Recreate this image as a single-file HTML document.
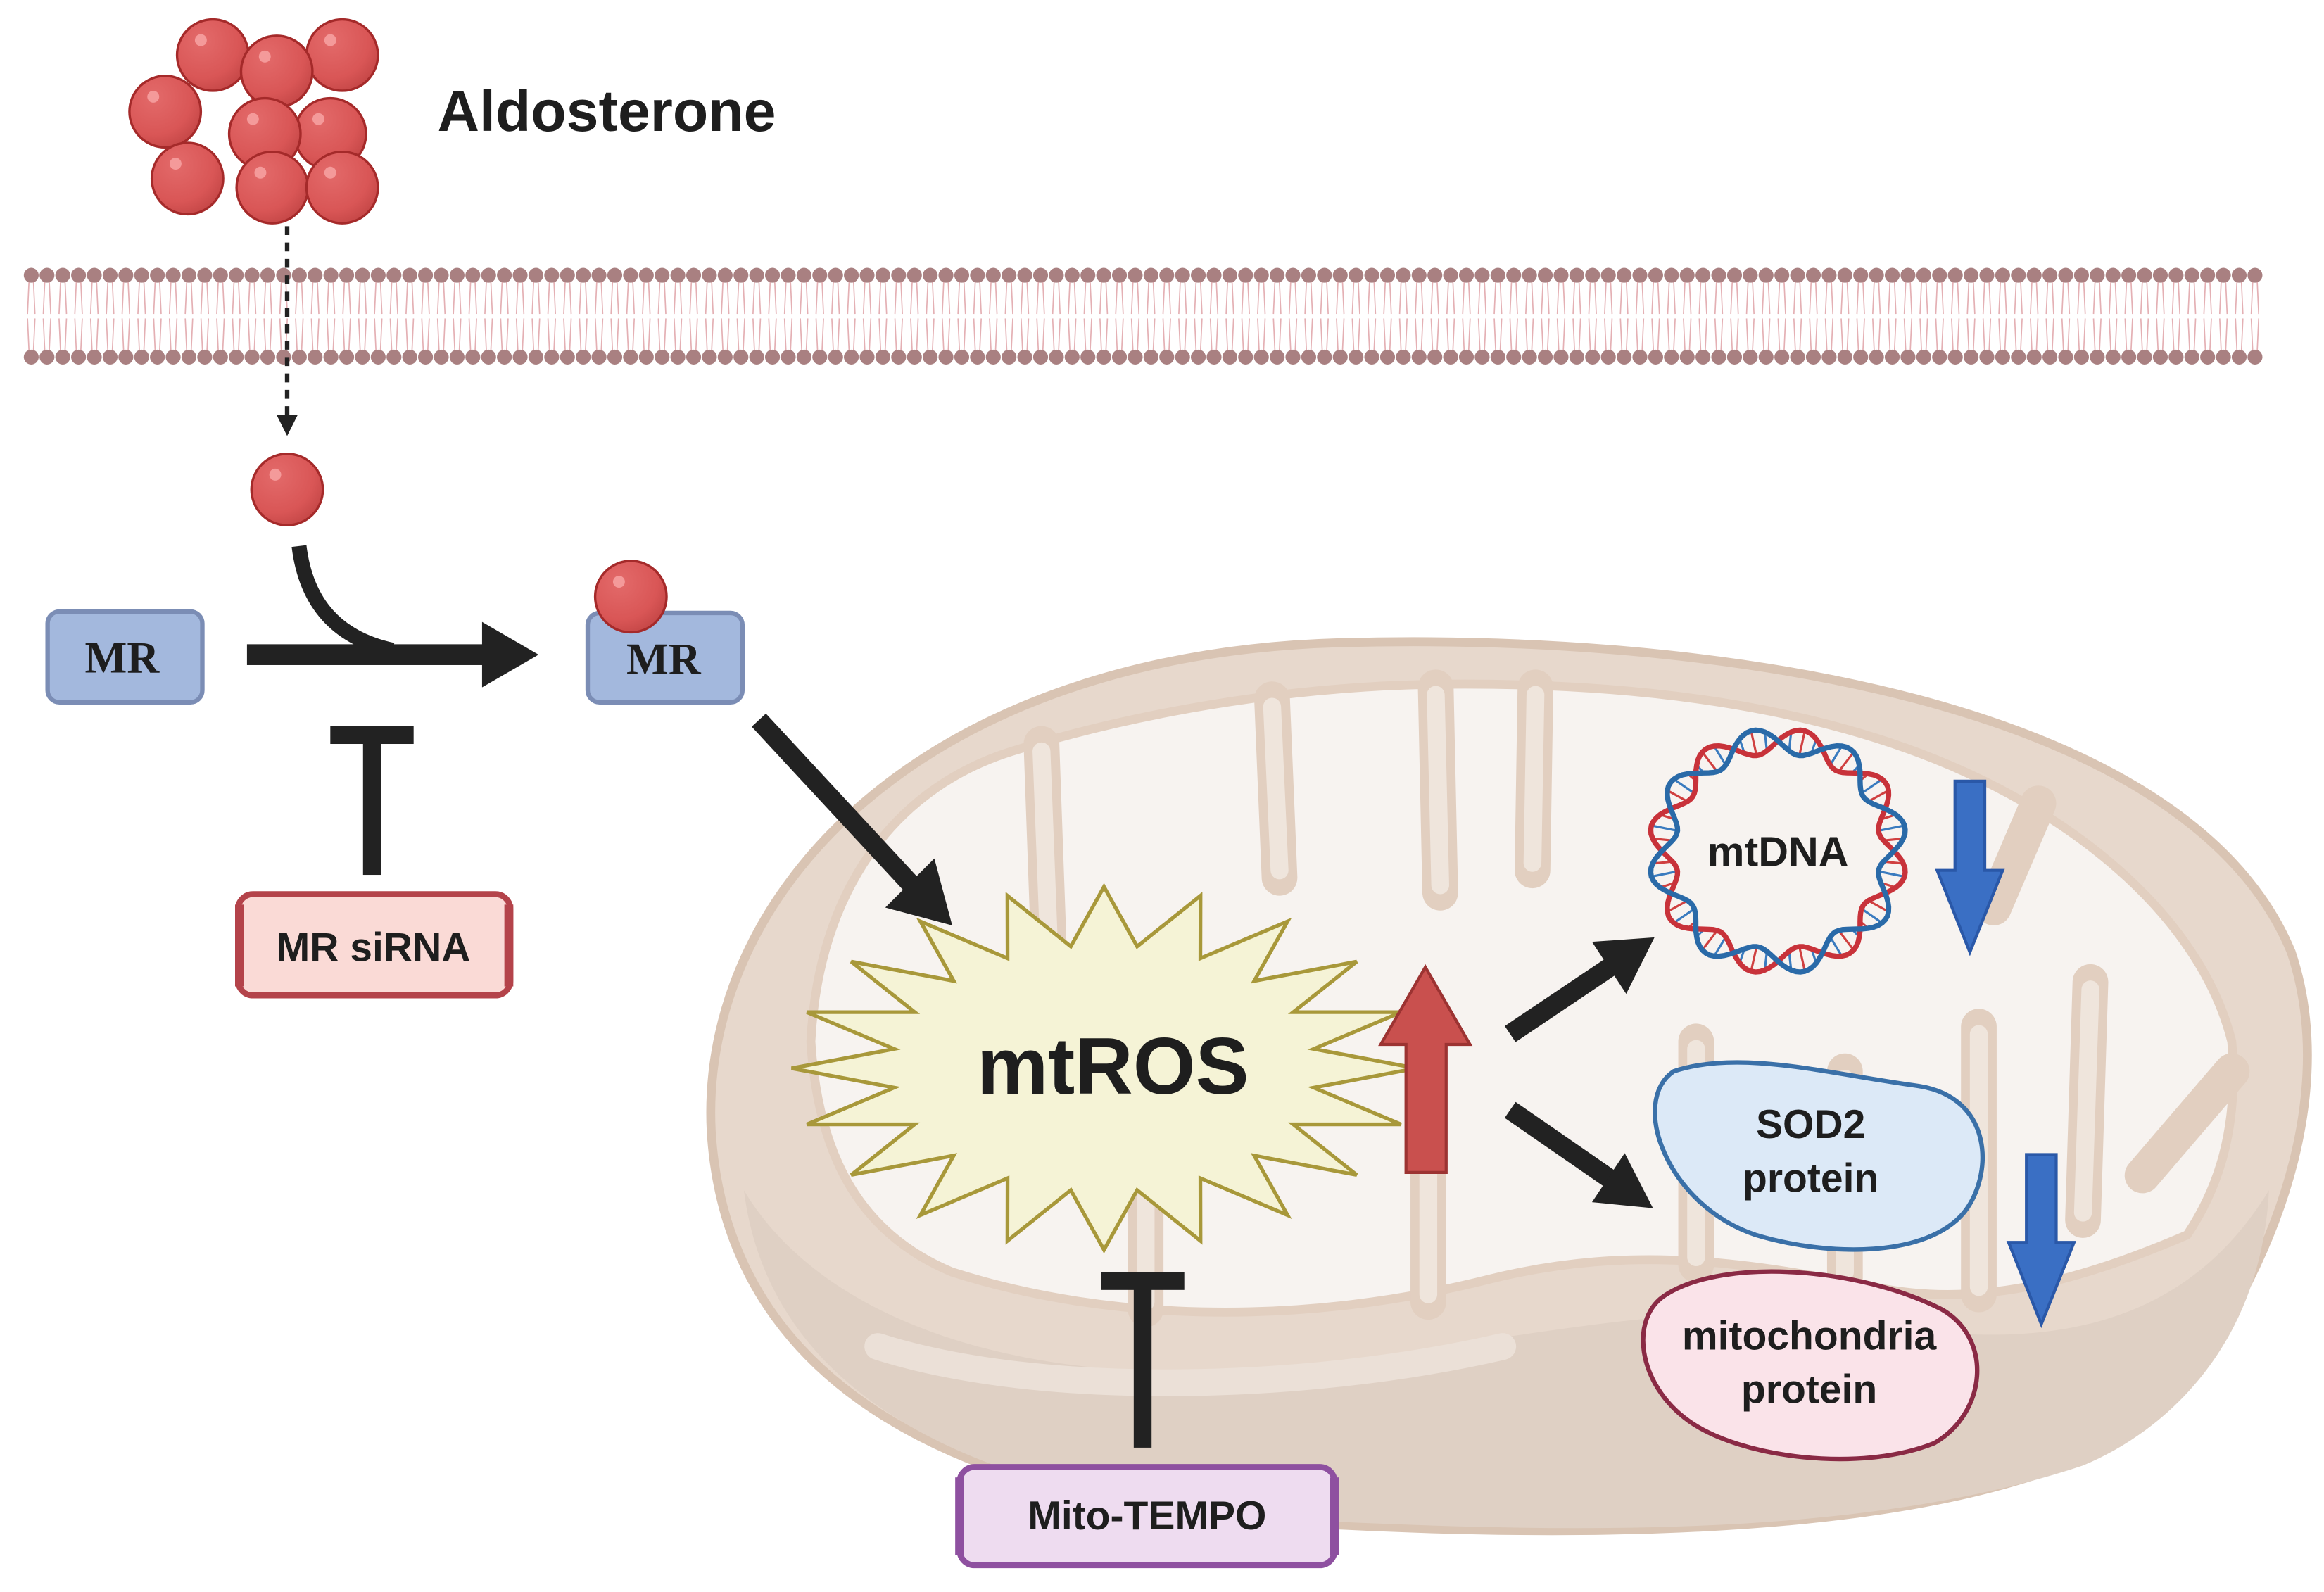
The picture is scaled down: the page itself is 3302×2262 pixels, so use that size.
<!DOCTYPE html>
<html><head><meta charset="utf-8"><style>
html,body{margin:0;padding:0;background:#fff;}
svg{display:block;}
text{font-family:"Liberation Sans",sans-serif;font-weight:bold;fill:#1e1e1e;}
</style></head><body>
<svg id="s" width="3302" height="2262" viewBox="0 0 1562 1070" xmlns="http://www.w3.org/2000/svg">
<defs>
<radialGradient id="ball" cx="0.35" cy="0.3" r="0.75"><stop offset="0" stop-color="#e36a6a"/><stop offset="0.7" stop-color="#d95656"/><stop offset="1" stop-color="#c54747"/></radialGradient>
<g id="b"><circle r="24" fill="url(#ball)" stroke="#a52a2a" stroke-width="1.6"/><circle cx="-8" cy="-10" r="4" fill="#f49a9a"/></g>
</defs>
<rect width="1562" height="1070" fill="#fff"/>
<use href="#b" x="143" y="37"/><use href="#b" x="230" y="37"/><use href="#b" x="186" y="48"/>
<use href="#b" x="111" y="75"/><use href="#b" x="222" y="90"/><use href="#b" x="178" y="90"/>
<use href="#b" x="126" y="120"/><use href="#b" x="183" y="126"/><use href="#b" x="230" y="126"/>
<text x="294" y="88" font-size="39">Aldosterone</text>
<g id="mem"></g>
<line x1="193" y1="152" x2="193" y2="280" stroke="#222" stroke-width="3" stroke-dasharray="6,5"/>
<polygon points="186,279 200,279 193,293" fill="#222"/>
<use href="#b" x="193" y="329"/>
<rect x="32" y="411" width="104" height="61" rx="8" fill="#a3b8dd" stroke="#7b8db5" stroke-width="3"/>
<text x="82" y="452" font-size="30" text-anchor="middle" style="font-family:'Liberation Serif',serif">MR</text>
<path d="M201,367 Q208,425 264,437" fill="none" stroke="#222" stroke-width="10"/>
<rect x="166" y="433" width="162" height="14" fill="#222"/>
<polygon points="324,418 362,440 324,462" fill="#222"/>
<rect x="395" y="412" width="104" height="60" rx="8" fill="#a3b8dd" stroke="#7b8db5" stroke-width="3"/>
<text x="446" y="453" font-size="30" text-anchor="middle" style="font-family:'Liberation Serif',serif">MR</text>
<use href="#b" x="424" y="401"/>
<rect x="222" y="488" width="56" height="12" fill="#222"/>
<rect x="244" y="488" width="12" height="100" fill="#222"/>
<rect x="160" y="601" width="183" height="68" rx="10" fill="#fadad6" stroke="#b4434a" stroke-width="4"/>
<rect x="158" y="608" width="6" height="55" fill="#b4434a"/><rect x="339" y="608" width="6" height="55" fill="#b4434a"/>
<text x="251" y="646" font-size="27" text-anchor="middle">MR siRNA</text>
<!-- Mitochondrion -->
<path d="M478,760 C470,600 620,440 900,432 C1150,425 1470,470 1540,640 C1580,760 1500,900 1450,950 C1350,1030 1100,1035 900,1025 C700,1020 490,960 478,760 Z" fill="#e7d8cc" stroke="#d9c4b3" stroke-width="6"/>
<path d="M500,800 C560,900 720,940 900,915 C1050,895 1150,870 1260,890 C1380,910 1470,890 1525,800 C1520,900 1460,960 1400,985 C1250,1035 1050,1030 880,1022 C700,1015 520,960 500,800 Z" fill="#dfd0c4"/>
<path d="M590,905 C700,940 880,935 1010,905" fill="none" stroke="#ebe0d7" stroke-width="18" stroke-linecap="round"/>
<path d="M545,700 C550,600 600,530 680,505 C760,480 860,462 960,460 C1080,458 1200,470 1300,510 C1400,550 1480,620 1500,700 C1505,760 1490,800 1470,830 C1400,860 1330,880 1260,865 C1180,850 1100,835 1000,860 C880,890 750,890 640,855 C580,830 550,780 545,700 Z" fill="#f7f3f0" stroke="#e2cfc0" stroke-width="6" stroke-linejoin="round"/>
<g fill="none" stroke="#e2cfc0" stroke-width="24" stroke-linecap="round">
<path d="M700,500 L705,640"/>
<path d="M855,470 L860,590"/>
<path d="M965,462 L968,600"/>
<path d="M1032,462 L1030,585"/>
<path d="M1370,540 L1340,610"/>
<path d="M770,880 L770,760"/>
<path d="M960,875 L960,690"/>
<path d="M1140,850 L1140,700"/>
<path d="M1240,860 L1240,720"/>
<path d="M1330,870 L1330,690"/>
<path d="M1400,820 L1405,660"/>
<path d="M1500,720 L1440,790"/>
</g>
<g fill="none" stroke="#efe5dc" stroke-width="12" stroke-linecap="round">
<path d="M700,505 L705,635"/><path d="M855,475 L860,585"/><path d="M965,467 L968,595"/><path d="M1032,467 L1030,580"/>
<path d="M770,875 L770,765"/><path d="M960,870 L960,695"/><path d="M1140,845 L1140,705"/><path d="M1240,855 L1240,725"/><path d="M1330,865 L1330,695"/><path d="M1400,815 L1405,665"/>
</g>
<line x1="510" y1="484" x2="612" y2="594" stroke="#222" stroke-width="13"/>
<polygon points="595,610 640,622 628,577" fill="#222"/>
<polygon id="star" fill="#f5f3d6" stroke="#a8983a" stroke-width="2.5"/>
<text x="748" y="735" font-size="54" text-anchor="middle">mtROS</text>
<polygon points="945,788 972,788 972,702 988,702 958,650 928,702 945,702" fill="#c9504e" stroke="#9c3332" stroke-width="2"/>
<line x1="1015" y1="695" x2="1085" y2="648" stroke="#222" stroke-width="13"/>
<polygon points="1112,630 1070,633 1093,668" fill="#222"/>
<line x1="1015" y1="746" x2="1083" y2="793" stroke="#222" stroke-width="13"/>
<polygon points="1111,812 1092,775 1070,808" fill="#222"/>
<circle cx="1195" cy="572" r="72" fill="#f7f3f0"/>
<g id="dna"></g>
<text x="1195" y="582" font-size="28" text-anchor="middle">mtDNA</text>
<polygon points="1314,525 1334,525 1334,585 1346,585 1324,640 1302,585 1314,585" fill="#3a6fc4" stroke="#2a58a8" stroke-width="2"/>
<polygon points="1362,776 1382,776 1382,835 1394,835 1372,890 1350,835 1362,835" fill="#3a6fc4" stroke="#2a58a8" stroke-width="2"/>
<path d="M1125,720 C1170,705 1230,722 1290,730 C1340,738 1340,790 1320,815 C1295,845 1230,845 1180,830 C1120,810 1095,740 1125,720 Z" fill="#dce9f7" stroke="#3a70a8" stroke-width="3"/>
<text x="1217" y="765" font-size="27" text-anchor="middle">SOD2</text>
<text x="1217" y="801" font-size="27" text-anchor="middle">protein</text>
<path d="M1120,870 C1160,845 1250,852 1305,880 C1340,900 1335,950 1300,970 C1250,990 1170,980 1135,955 C1100,930 1095,885 1120,870 Z" fill="#fae3e9" stroke="#8a2a45" stroke-width="3"/>
<text x="1216" y="907" font-size="27" text-anchor="middle">mitochondria</text>
<text x="1216" y="943" font-size="27" text-anchor="middle">protein</text>
<rect x="740" y="855" width="56" height="12" fill="#222"/>
<rect x="762" y="855" width="12" height="118" fill="#222"/>
<rect x="645" y="986" width="252" height="66" rx="10" fill="#eedcf0" stroke="#8e50a0" stroke-width="4"/>
<rect x="642" y="993" width="6" height="52" fill="#8e50a0"/><rect x="894" y="993" width="6" height="52" fill="#8e50a0"/>
<text x="771" y="1028" font-size="27" text-anchor="middle">Mito-TEMPO</text>
</svg>
<script>
var NS="http://www.w3.org/2000/svg";
function el(t,a,p){var e=document.createElementNS(NS,t);for(var k in a)e.setAttribute(k,a[k]);p.appendChild(e);return e;}
var mem=document.getElementById("mem");
for(var x=21;x<=1518;x+=10.6){
 el("path",{d:"M"+(x-1.5)+",189 L"+(x-2.5)+",211 M"+(x+1.5)+",189 L"+(x+2.5)+",211 M"+(x-2.5)+",214 L"+(x-1.5)+",236 M"+(x+2.5)+",214 L"+(x+1.5)+",236",stroke:"#e4b0b4","stroke-width":"0.8",fill:"none"},mem);
 el("circle",{cx:x,cy:185,r:5,fill:"#a98081"},mem);
 el("circle",{cx:x,cy:240,r:5,fill:"#a98081"},mem);
}
var pts=[],n=20,cx=742,cy=718;
for(var i=0;i<n*2;i++){var a=Math.PI*i/n-Math.PI/2,r=(i%2==0)?1:0.68;pts.push((cx+Math.cos(a)*210*r).toFixed(1)+","+(cy+Math.sin(a)*122*r).toFixed(1));}
document.getElementById("star").setAttribute("points",pts.join(" "));
var dna=document.getElementById("dna"),dcx=1195,dcy=572,R=78,d1="",d2="";
for(var k=0;k<=360;k+=2){var t=k*Math.PI/180,w=Math.sin(t*8)*9;
 var x1=dcx+Math.cos(t)*(R+w),y1=dcy+Math.sin(t)*(R+w)*0.95,x2=dcx+Math.cos(t)*(R-w),y2=dcy+Math.sin(t)*(R-w)*0.95;
 d1+=(k?"L":"M")+x1.toFixed(1)+","+y1.toFixed(1);d2+=(k?"L":"M")+x2.toFixed(1)+","+y2.toFixed(1);
 if(k%6==0)el("line",{x1:x1,y1:y1,x2:x2,y2:y2,stroke:(k%12==0)?"#3a7bbf":"#d04040","stroke-width":"1.5"},dna);}
el("path",{d:d1,fill:"none",stroke:"#c8323a","stroke-width":"3.5"},dna);
el("path",{d:d2,fill:"none",stroke:"#2a6aa8","stroke-width":"3.5"},dna);
</script>
</body></html>
